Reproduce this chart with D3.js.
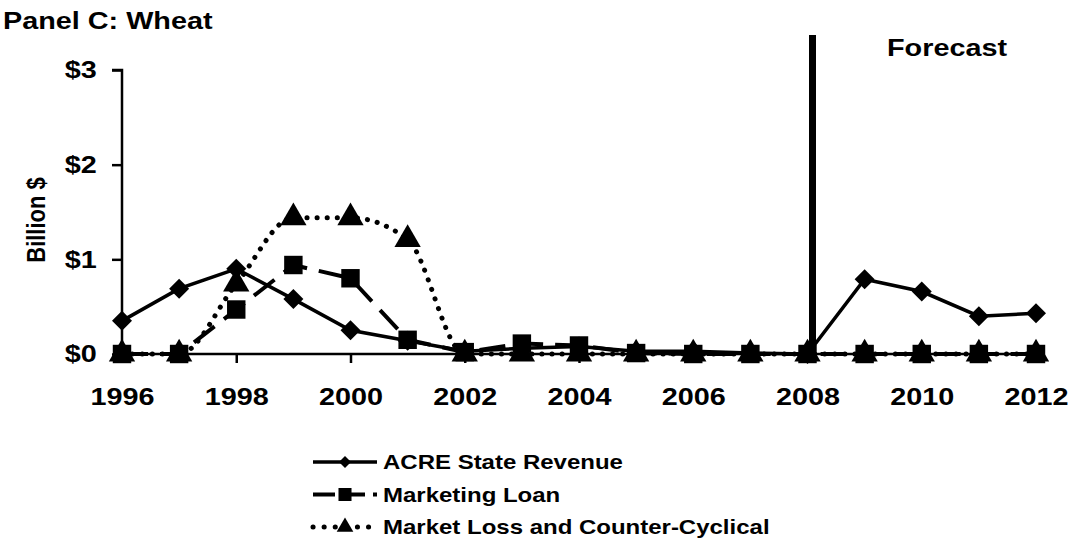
<!DOCTYPE html>
<html>
<head>
<meta charset="utf-8">
<script src="https://cdn.jsdelivr.net/npm/d3@7"></script>
<style>
  body { margin: 0; background: #fff; }
  text { font-family: "Liberation Sans", Arial, sans-serif; font-weight: bold; fill: #000; }
  .axis path, .axis line { stroke: #000; stroke-width: 2.5; }
  .axis text { font-size: 24px; }
</style>
</head>
<body>
<div id="chart"></div>
<script>
// data (billion $)
const years = [1996, 1997, 1998, 1999, 2000, 2001, 2002, 2003, 2004, 2005, 2006, 2007, 2008, 2009, 2010, 2011, 2012];
const acre = [0.35, 0.69, 0.90, 0.58, 0.25, 0.14, 0.03, 0.06, 0.08, 0.03, 0.03, 0.01, 0.00, 0.79, 0.66, 0.40, 0.43];
const marketingLoan = [0, 0, 0.47, 0.94, 0.80, 0.15, 0.02, 0.11, 0.09, 0.01, 0, 0, 0, 0, 0, 0, 0];
const marketLoss = [0, 0, 0.74, 1.44, 1.44, 1.21, 0, 0, 0, 0, 0, 0, 0, 0, 0, 0, 0];
const yTicks = [0, 1, 2, 3];
const xTicks = [1996, 1998, 2000, 2002, 2004, 2006, 2008, 2010, 2012];
const legendNames = ["ACRE State Revenue", "Marketing Loan", "Market Loss and Counter-Cyclical"];
const forecastYear = 2008;

(function () {
  const svgW = 1071, svgH = 560;
  const sx = 1.2; // text in the original is a bit wide

  const svg = d3.select("#chart").append("svg")
    .attr("width", svgW)
    .attr("height", svgH);

  const x = d3.scaleLinear().domain([1996, 2012]).range([122, 1036]);
  const y = d3.scaleLinear().domain([0, 3]).range([354, 70]);

  // title
  svg.append("text")
    .attr("transform", "translate(3,29) scale(" + sx + ",1)")
    .style("font-size", "24px")
    .text("Panel C: Wheat");

  // axes
  svg.append("g")
    .attr("class", "axis")
    .attr("transform", "translate(" + x(1996) + ",0)")
    .call(d3.axisLeft(y).tickValues(yTicks).tickSize(10).tickPadding(11).tickFormat(d => "$" + d))
    .call(g => g.select(".domain").attr("d", "M0," + y(0) + "V" + y(3) + "H-10"))
    .call(g => g.selectAll("text").attr("transform", "scale(" + sx + ",1)"));

  svg.append("g")
    .attr("class", "axis")
    .attr("transform", "translate(0," + y(0) + ")")
    .call(d3.axisBottom(x).tickValues(xTicks).tickSize(9).tickPadding(25).tickFormat(d3.format("d")))
    .call(g => g.select(".domain").attr("d", "M" + x(1996) + ",0H" + x(2012)))
    .call(g => g.selectAll("text").attr("transform", "scale(" + sx + ",1)"));

  // y axis title
  svg.append("text")
    .attr("transform", "translate(45,220) scale(" + sx + ",1) rotate(-90)")
    .attr("text-anchor", "middle")
    .style("font-size", "22px")
    .text("Billion $");

  // forecast divider
  svg.append("line")
    .attr("x1", x(forecastYear) + 5).attr("x2", x(forecastYear) + 5)
    .attr("y1", 35).attr("y2", y(0))
    .attr("stroke", "#000").attr("stroke-width", 7);

  svg.append("text")
    .attr("transform", "translate(887,56) scale(" + sx + ",1)")
    .style("font-size", "24px")
    .text("Forecast");

  // square rotated 45 degrees for the diamond marker
  const series = [
    { name: legendNames[2], values: marketLoss, dash: "0.1,10", width: 5, cap: "round", marker: d3.symbolTriangle, rot: 0, size: 300, lsize: 120, curve: d3.curveMonotoneX },
    { name: legendNames[1], values: marketingLoan, dash: "26,12", width: 4, cap: "butt", marker: d3.symbolSquare, rot: 0, size: 340, lsize: 170, curve: d3.curveLinear },
    { name: legendNames[0], values: acre, dash: null, width: 3.5, cap: "butt", marker: d3.symbolSquare, rot: 45, size: 200, lsize: 72, curve: d3.curveLinear }
  ];

  series.forEach(function (s) {
    const pts = years.map((yr, i) => [yr, s.values[i]]);
    const line = d3.line().x(d => x(d[0])).y(d => y(d[1])).curve(s.curve);
    svg.append("path")
      .datum(pts)
      .attr("fill", "none")
      .attr("stroke", "#000")
      .attr("stroke-width", s.width)
      .attr("stroke-linecap", s.cap)
      .attr("stroke-dasharray", s.dash)
      .attr("d", line);
    svg.selectAll(null)
      .data(pts)
      .enter().append("path")
      .attr("transform", d => "translate(" + x(d[0]) + "," + y(d[1]) + ") rotate(" + s.rot + ")")
      .attr("d", d3.symbol().type(s.marker).size(s.size))
      .attr("fill", "#000");
  });

  // legend
  const legend = svg.append("g").attr("transform", "translate(313,462)");
  const legendSeries = series.slice().reverse();
  legendSeries.forEach(function (s, i) {
    const g = legend.append("g").attr("transform", "translate(0," + i * 32.5 + ")");
    g.append("line")
      .attr("x1", 0).attr("x2", 64).attr("y1", 0).attr("y2", 0)
      .attr("stroke", "#000")
      .attr("stroke-width", s.width)
      .attr("stroke-linecap", s.cap)
      .attr("stroke-dasharray", s.name === legendNames[1] ? "22,8" : (s.name === legendNames[2] ? "0.1,11" : s.dash));
    g.append("path")
      .attr("transform", "translate(32,0) rotate(" + s.rot + ")")
      .attr("d", d3.symbol().type(s.marker).size(s.lsize))
      .attr("fill", "#000");
    g.append("text")
      .attr("transform", "translate(70,0) scale(" + sx + ",1)")
      .attr("dy", "0.35em")
      .style("font-size", "20px")
      .text(s.name);
  });
})();
</script>
</body>
</html>
